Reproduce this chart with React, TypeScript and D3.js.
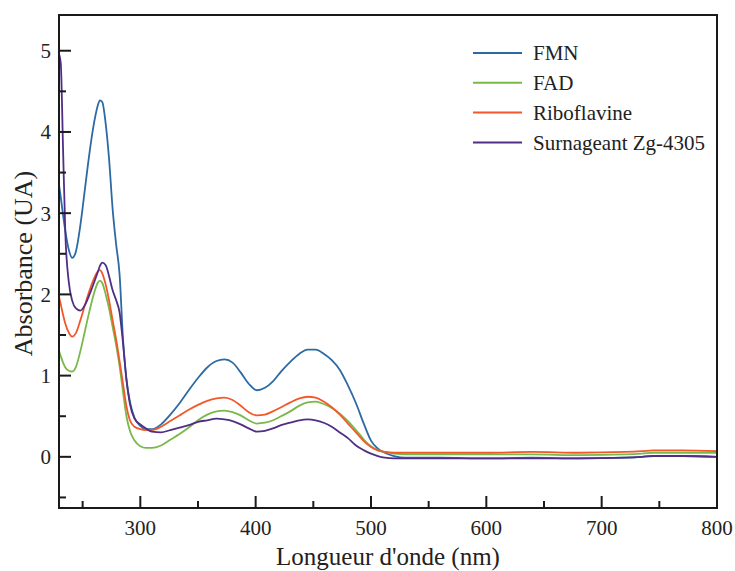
import React from "react";
import * as d3 from "d3";

const wavelengths = [229, 231, 233, 235, 238, 241, 244, 248, 252, 256, 260, 263, 265, 267, 270, 273, 276, 279, 282, 285, 288, 291, 295, 300, 305, 310, 318, 326, 334, 342, 350, 358, 366, 373, 380, 387, 394, 401, 408, 415, 422, 430, 438, 445, 452, 459, 466, 473, 480, 487, 494, 500, 506, 512, 520, 530, 560, 600, 640, 680, 720, 735, 745, 770, 800];

const fmn = [3.40, 3.20, 2.98, 2.78, 2.55, 2.45, 2.52, 2.85, 3.30, 3.75, 4.12, 4.32, 4.39, 4.37, 4.10, 3.65, 3.05, 2.62, 2.25, 1.45, 0.95, 0.68, 0.48, 0.38, 0.34, 0.34, 0.40, 0.52, 0.66, 0.82, 0.97, 1.10, 1.18, 1.20, 1.16, 1.04, 0.90, 0.82, 0.85, 0.93, 1.05, 1.17, 1.27, 1.32, 1.32, 1.27, 1.19, 1.07, 0.88, 0.66, 0.40, 0.20, 0.10, 0.05, 0.01, -0.01, -0.01, -0.02, -0.01, -0.02, -0.01, 0.00, 0.01, 0.01, 0.00];

const fad = [1.33, 1.24, 1.16, 1.10, 1.06, 1.05, 1.10, 1.30, 1.55, 1.80, 2.02, 2.14, 2.17, 2.14, 2.00, 1.82, 1.60, 1.38, 1.12, 0.80, 0.50, 0.32, 0.20, 0.13, 0.11, 0.11, 0.14, 0.21, 0.28, 0.36, 0.45, 0.52, 0.56, 0.57, 0.55, 0.51, 0.45, 0.41, 0.42, 0.45, 0.50, 0.56, 0.63, 0.67, 0.68, 0.65, 0.60, 0.53, 0.44, 0.33, 0.21, 0.13, 0.08, 0.06, 0.04, 0.03, 0.03, 0.03, 0.03, 0.02, 0.03, 0.04, 0.05, 0.05, 0.05];

const riboflavine = [2.00, 1.88, 1.75, 1.64, 1.53, 1.48, 1.52, 1.68, 1.87, 2.05, 2.20, 2.28, 2.30, 2.26, 2.12, 1.92, 1.68, 1.45, 1.18, 0.90, 0.62, 0.45, 0.37, 0.34, 0.33, 0.33, 0.37, 0.44, 0.51, 0.58, 0.64, 0.69, 0.72, 0.73, 0.70, 0.63, 0.55, 0.51, 0.52, 0.56, 0.61, 0.67, 0.72, 0.74, 0.73, 0.68, 0.61, 0.52, 0.41, 0.30, 0.19, 0.12, 0.08, 0.06, 0.05, 0.05, 0.05, 0.05, 0.06, 0.05, 0.06, 0.07, 0.08, 0.08, 0.07];

const surnageant = [4.98, 4.85, 3.80, 2.75, 2.15, 1.92, 1.83, 1.80, 1.87, 2.00, 2.15, 2.27, 2.35, 2.39, 2.36, 2.22, 2.05, 1.93, 1.78, 1.40, 0.95, 0.65, 0.47, 0.40, 0.35, 0.31, 0.30, 0.33, 0.36, 0.39, 0.43, 0.45, 0.47, 0.46, 0.44, 0.40, 0.35, 0.31, 0.32, 0.35, 0.39, 0.42, 0.45, 0.46, 0.45, 0.42, 0.37, 0.30, 0.23, 0.14, 0.08, 0.04, 0.01, -0.01, -0.02, -0.02, -0.02, -0.02, -0.02, -0.02, -0.01, 0.00, 0.01, 0.01, 0.00];

const seriesNames = ["FMN", "FAD", "Riboflavine", "Surnageant Zg-4305"];
const seriesValues = [fmn, fad, riboflavine, surnageant];
const seriesColors = ["#2d6aa3", "#79b94a", "#f2582a", "#4f2f86"];

const xMajorTicks = [300, 400, 500, 600, 700, 800];
const xMinorTicks = [250, 350, 450, 550, 650, 750];
const yMajorTicks = [0, 1, 2, 3, 4, 5];
const yMinorTicks = [-0.5, 0.5, 1.5, 2.5, 3.5, 4.5];

const W = 735;
const H = 571;
const L = 59;
const R = 717;
const T = 15;
const B = 508;
const FONT = '"Liberation Serif", "DejaVu Serif", serif';
const textStyle = { fontFamily: FONT };

export default function App() {
  const x = d3.scaleLinear().domain([229.5, 800]).range([L, R]);
  const y = d3.scaleLinear().domain([-0.63, 5.44]).range([B, T]);
  const line = d3
    .line<number>()
    .x((_, i) => x(wavelengths[i]))
    .y((d) => y(d))
    .curve(d3.curveMonotoneX);

  return (
    <svg
      width={W}
      height={H}
      style={{ position: "absolute", left: 0, top: 0, background: "#fff" }}
    >
      <defs>
        <clipPath id="plot">
          <rect x={L} y={T} width={R - L} height={B - T} />
        </clipPath>
      </defs>
      <g clipPath="url(#plot)">
        {seriesValues.map((vals, i) => (
          <path
            key={seriesNames[i]}
            d={line(vals) || ""}
            fill="none"
            stroke={seriesColors[i]}
            strokeWidth={1.8}
            strokeLinejoin="round"
          />
        ))}
      </g>
      <rect x={L} y={T} width={R - L} height={B - T} fill="none" stroke="#1a1a1a" strokeWidth={2} />
      {yMajorTicks.map((t) => (
        <g key={"ym" + t}>
          <line x1={L} x2={L + 12} y1={y(t)} y2={y(t)} stroke="#1a1a1a" strokeWidth={2} />
          <text x={51} y={y(t)} dy="0.35em" textAnchor="end" fontSize={21} fill="#222" style={textStyle}>
            {t}
          </text>
        </g>
      ))}
      {yMinorTicks.map((t) => (
        <line key={"yn" + t} x1={L} x2={L + 7} y1={y(t)} y2={y(t)} stroke="#1a1a1a" strokeWidth={2} />
      ))}
      {xMajorTicks.map((t) => (
        <g key={"xm" + t}>
          <line x1={x(t)} x2={x(t)} y1={B} y2={B - 12} stroke="#1a1a1a" strokeWidth={2} />
          <text x={x(t)} y={535} textAnchor="middle" fontSize={21} fill="#222" style={textStyle}>
            {t}
          </text>
        </g>
      ))}
      {xMinorTicks.map((t) => (
        <line key={"xn" + t} x1={x(t)} x2={x(t)} y1={B} y2={B - 7} stroke="#1a1a1a" strokeWidth={2} />
      ))}
      <text x={(L + R) / 2} y={565} textAnchor="middle" fontSize={25} fill="#222" style={textStyle}>
        Longueur d'onde (nm)
      </text>
      <text
        transform={`translate(32, ${(T + B) / 2 + 2}) rotate(-90)`}
        textAnchor="middle"
        fontSize={26}
        fill="#222"
        style={textStyle}
      >
        Absorbance (UA)
      </text>
      {seriesNames.map((name, i) => {
        const ly = 53 + i * 29.8;
        return (
          <g key={"lg" + name}>
            <line x1={473} x2={522} y1={ly} y2={ly} stroke={seriesColors[i]} strokeWidth={2} />
            <text x={533} y={ly} dy="0.35em" fontSize={21} fill="#222" style={textStyle}>
              {name}
            </text>
          </g>
        );
      })}
    </svg>
  );
}
